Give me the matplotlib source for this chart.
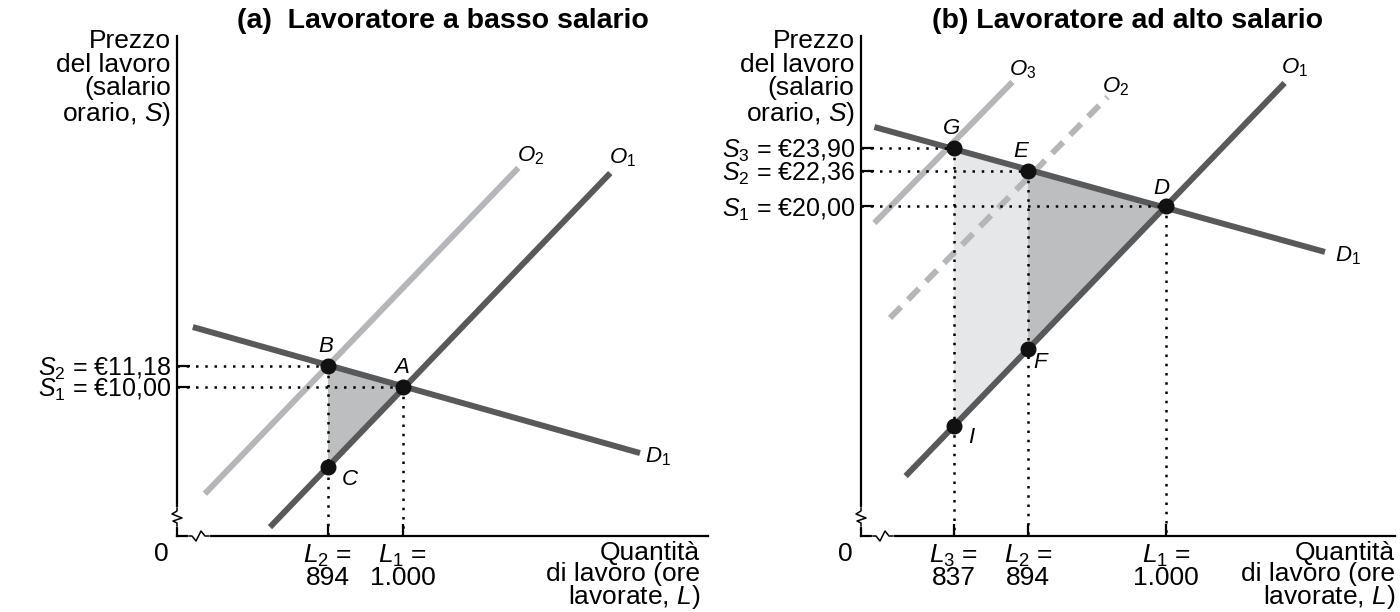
import numpy as np
import matplotlib.pyplot as plt
from matplotlib import transforms as mtransforms

plt.rcParams['font.family'] = ['Liberation Sans', 'DejaVu Sans']
plt.rcParams['mathtext.fontset'] = 'custom'
plt.rcParams['mathtext.rm'] = 'Liberation Sans'
plt.rcParams['mathtext.it'] = 'Liberation Sans:italic'
plt.rcParams['mathtext.bf'] = 'Liberation Sans:bold'

DARK = '#58595b'
LIGHT = '#b4b6b9'
SHADE_DARK = '#bcbec0'
SHADE_LIGHT = '#e6e7e8'
FS = 19      # axis texts
FS_PT = 16   # point / curve labels

# (a) low-wage worker: equilibrium A (L1, S1) and B (L2, S2)
a_hours = [1000, 894]
a_wage = [10.00, 11.18]
a_hour_labels = [r'$L_1$ =' + '\n1.000', r'$L_2$ =' + '\n894']
a_wage_labels = [r'$S_1$ = €10,00', r'$S_2$ = €11,18']
a_d1_L, a_d1_S = [703, 1335], [13.37, 6.29]
a_o1_L, a_o1_S = [812, 1293], [2.13, 22.02]
a_o2_L, a_o2_S = [720, 1163], [4.00, 22.31]

# (b) high-wage worker: D (L1, S1), E (L2, S2), G (L3, S3)
b_hours = [1000, 894, 837]
b_wage = [20.00, 22.36, 23.90]
b_hour_labels = [r'$L_1$ =' + '\n1.000', r'$L_2$ =' + '\n894', r'$L_3$ =' + '\n837']
b_wage_labels = [r'$S_1$ = €20,00', r'$S_2$ = €22,36', r'$S_3$ = €23,90']
b_d1_L, b_d1_S = [776, 1122], [25.27, 16.98]
b_o1_L, b_o1_S = [800, 1091], [2.11, 28.19]
b_o2_L, b_o2_S = [788, 955], [12.60, 27.26]
b_o3_L, b_o3_S = [776, 882], [18.90, 28.26]

Y_LABEL = 'Prezzo\ndel lavoro\n(salario\norario, $S$)'
X_LABEL = 'Quantità\ndi lavoro (ore\nlavorate, $L$)'


def on_line(L, xs, ys):
    # value of a straight curve at L
    return ys[0] + (L - xs[0]) * (ys[1] - ys[0]) / (xs[1] - xs[0])


def curve(ax, xs, ys, color, dashed=False):
    if dashed:
        ax.plot(xs, ys, color=color, lw=4.3, dashes=(2.6, 1.7), dash_capstyle='butt', zorder=3)
    else:
        ax.plot(xs, ys, color=color, lw=4.3, solid_capstyle='butt', zorder=3)


def label_at(ax, text, xy, dx, dy, ha='center'):
    ax.annotate(text, xy=xy, xytext=(dx, dy), textcoords='offset pixels',
                ha=ha, va='center', fontsize=FS_PT)


def guides(ax, L, S):
    xmin, ymin = ax.get_xlim()[0], ax.get_ylim()[0]
    ax.plot([xmin, L], [S, S], color='black', lw=1.8, linestyle=(0, (1, 2.7)), zorder=4)
    ax.plot([L, L], [S, ymin], color='black', lw=1.8, linestyle=(0, (1, 2.7)), zorder=4)


def setup(ax, hours, hour_labels, wages, wage_labels, xlab_right):
    for s in ['top', 'right']:
        ax.spines[s].set_visible(False)
    for s in ['left', 'bottom']:
        ax.spines[s].set_linewidth(1.6)
    ax.set_xticks(hours, labels=hour_labels)
    ax.set_yticks(wages, labels=wage_labels)
    ax.tick_params(direction='in', length=9, width=1.6, labelsize=FS)
    ax.tick_params(axis='x', pad=5)
    ax.tick_params(axis='y', pad=4, labelsize=18)
    for t in ax.get_xticklabels():
        t.set_linespacing(0.85)
    ax.text(-0.012, 1.014, Y_LABEL, transform=ax.transAxes, ha='right', va='top',
            fontsize=FS, linespacing=0.98)
    ax.text(xlab_right, -0.01, X_LABEL, transform=ax.transAxes, ha='right', va='top',
            fontsize=FS, linespacing=0.86)
    ax.text(-0.03, -0.012, '0', transform=ax.transAxes, ha='center', va='top', fontsize=FS)
    # axis breaks
    fig = ax.figure
    tr = fig.dpi_scale_trans + mtransforms.ScaledTranslation(0, 0, ax.transAxes)
    p = 1 / 100
    yb = 19 * p
    ax.plot([0, 0], [yb - 8 * p, yb + 8 * p], color='white', lw=3, transform=tr, clip_on=False, zorder=5)
    ax.plot(np.array([0, 0, -5, 5, -4, 0, 0]) * p,
            yb + np.array([9, 6, 3, -1, -4, -6, -9]) * p,
            color='black', lw=1.1, transform=tr, clip_on=False, zorder=6)
    xb = 22 * p
    ax.plot([xb - 9 * p, xb + 9 * p], [0, 0], color='white', lw=3, transform=tr, clip_on=False, zorder=5)
    ax.plot(xb + np.array([-10, -7, -3, 2, 6, 10]) * p,
            np.array([0, 0, -5, 5, 0, 0]) * p,
            color='black', lw=1.1, transform=tr, clip_on=False, zorder=6)


fig = plt.figure(figsize=(14, 6.12), dpi=100)
W, H = 1400, 612

# ---------- panel (a) ----------
ax1 = fig.add_axes([177 / W, (H - 536) / H, (708 - 177) / W, (536 - 36) / H])
ax1.set_xlim(680.6, 1431.1)
ax1.set_ylim(1.63, 29.72)
setup(ax1, a_hours, a_hour_labels, a_wage, a_wage_labels, 0.985)
ax1.set_title('(a)  Lavoratore a basso salario', fontsize=20.5, fontweight='bold', x=0.5, pad=6)

curve(ax1, a_o2_L, a_o2_S, LIGHT)
curve(ax1, a_o1_L, a_o1_S, DARK)
curve(ax1, a_d1_L, a_d1_S, DARK)

L1, L2 = a_hours
S1, S2 = a_wage
SC = on_line(L2, a_o1_L, a_o1_S)
ax1.fill([L2, L1, L2], [S2, S1, SC], color=SHADE_DARK, lw=0, zorder=2)
guides(ax1, L2, S2)
guides(ax1, L1, S1)
ax1.plot([L2, L1, L2], [S2, S1, SC], 'o', color='#111111', ms=10.5, zorder=6)

label_at(ax1, '$B$', (L2, S2), -2, 20)
label_at(ax1, '$A$', (L1, S1), -2, 20)
label_at(ax1, '$C$', (L2, SC), 22, -13)
label_at(ax1, '$O_2$', (a_o2_L[1], a_o2_S[1]), 12, 12)
label_at(ax1, '$O_1$', (a_o1_L[1], a_o1_S[1]), 12, 15)
label_at(ax1, '$D_1$', (a_d1_L[1], a_d1_S[1]), 5, -4, ha='left')

# ---------- panel (b) ----------
ax2 = fig.add_axes([861 / W, (H - 536) / H, (1395 - 861) / W, (536 - 36) / H])
ax2.set_xlim(765.7, 1175.8)
ax2.set_ylim(-1.87, 31.31)
setup(ax2, b_hours, b_hour_labels, b_wage, b_wage_labels, 1.0)
ax2.set_title('(b) Lavoratore ad alto salario', fontsize=20.5, fontweight='bold', x=0.5, pad=6)

curve(ax2, b_o3_L, b_o3_S, LIGHT)
curve(ax2, b_o2_L, b_o2_S, LIGHT, dashed=True)
curve(ax2, b_o1_L, b_o1_S, DARK)
curve(ax2, b_d1_L, b_d1_S, DARK)

L1, L2, L3 = b_hours
S1, S2, S3 = b_wage
SF = on_line(L2, b_o1_L, b_o1_S)
SI = on_line(L3, b_o1_L, b_o1_S)
ax2.fill([L3, L2, L2, L3], [S3, S2, SF, SI], color=SHADE_LIGHT, lw=0, zorder=2)
ax2.fill([L2, L1, L2], [S2, S1, SF], color=SHADE_DARK, lw=0, zorder=2)
guides(ax2, L3, S3)
guides(ax2, L2, S2)
guides(ax2, L1, S1)
ax2.plot([L3, L2, L1, L2, L3], [S3, S2, S1, SF, SI], 'o', color='#111111', ms=10.5, zorder=6)

label_at(ax2, '$G$', (L3, S3), -3, 19)
label_at(ax2, '$E$', (L2, S2), -7, 19)
label_at(ax2, '$D$', (L1, S1), -4, 18)
label_at(ax2, '$F$', (L2, SF), 13, -13)
label_at(ax2, '$I$', (L3, SI), 18, -11)
label_at(ax2, '$O_3$', (b_o3_L[1], b_o3_S[1]), 10, 12)
label_at(ax2, '$O_2$', (b_o2_L[1], b_o2_S[1]), 8, 10)
label_at(ax2, '$O_1$', (b_o1_L[1], b_o1_S[1]), 10, 15)
label_at(ax2, '$D_1$', (b_d1_L[1], b_d1_S[1]), 10, -4, ha='left')

fig.savefig('out.png', dpi=100)
